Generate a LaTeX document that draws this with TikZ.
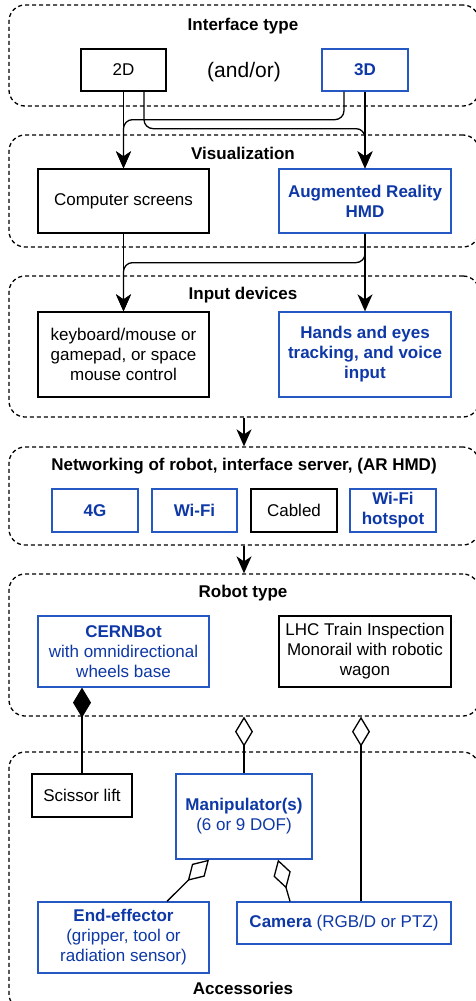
\documentclass[tikz,border=0pt]{standalone}
\usepackage{fontspec}
\setmainfont{Liberation Sans}
\usetikzlibrary{arrows.meta,calc}
\definecolor{btext}{RGB}{14,56,166}
\definecolor{bline}{RGB}{38,88,196}
\begin{document}
\begin{tikzpicture}[x=1pt,y=-1pt,
  every node/.style={font=\fontsize{17}{20}\selectfont, align=center, inner sep=0pt},
  bbox/.style={draw=black, line width=1.3pt, fill=white},
  bluebox/.style={draw=bline, line width=1.3pt, text=btext, fill=white},
  cont/.style={draw=black, line width=1.3pt, dash pattern=on 4pt off 3pt, rounded corners=16pt},
  ttl/.style={font=\fontsize{17}{20}\selectfont\bfseries},
  arr/.style={line width=1.3pt, -{Stealth[length=17pt,width=15pt,inset=5pt]}},
  lnk/.style={line width=1.3pt, rounded corners=9pt},
  fdia/.style={line width=1.3pt, -{Diamond[length=30pt,width=18pt]}},
  odia/.style={line width=1.3pt, -{Diamond[open,length=30pt,width=18pt]}}
]
\useasboundingbox (0,0) rectangle (476,1001);
\clip (0,0) rectangle (476,1001);

% containers
\node[cont, minimum width=470pt, minimum height=101pt] (c1) at (244,55.5) {};
\node[cont, minimum width=470pt, minimum height=112pt] (c2) at (244,191) {};
\node[cont, minimum width=470pt, minimum height=141pt] (c3) at (244,346.5) {};
\node[cont, minimum width=470pt, minimum height=98pt] (c4) at (244,496) {};
\node[cont, minimum width=470pt, minimum height=142pt] (c5) at (244,645) {};
\node[cont, minimum width=470pt, minimum height=258pt] (c6) at (244,881) {};

% titles
\node[ttl] (t1) at (243,26) {Interface type};
\node[ttl] (t2) at (243,153) {Visualization};
\node[ttl] (t3) at (243,295) {Input devices};
\node[ttl] (t4) at (244,466) {Networking of robot, interface server, (AR HMD)};
\node[ttl] (t5) at (243,593) {Robot type};
\node[ttl] (t6) at (243,988) {Accessories};

% interface type
\node[bbox, minimum width=85pt, minimum height=42pt] (d2) at (123.5,70) {2D};
\node[font=\fontsize{21}{24}\selectfont] (andor) at (244,72) {(and/or)};
\node[bluebox, minimum width=86pt, minimum height=42pt] (d3) at (365,70) {\bfseries 3D};

% visualization
\node[bbox, minimum width=171pt, minimum height=64pt] (cs) at (123.5,201) {Computer screens};
\node[bluebox, minimum width=172pt, minimum height=64pt] (ar) at (365,201) {\bfseries Augmented Reality\\\bfseries HMD};

% input devices
\node[bbox, minimum width=171pt, minimum height=85pt] (kb) at (123.5,354.5) {keyboard/mouse or\\gamepad, or space\\mouse control};
\node[bluebox, minimum width=172pt, minimum height=85pt] (hands) at (365,354.5) {\bfseries Hands and eyes\\\bfseries tracking, and voice\\\bfseries input};

% networking
\node[bluebox, minimum width=86pt, minimum height=43pt] (g4) at (95,510.5) {\bfseries 4G};
\node[bluebox, minimum width=85pt, minimum height=43pt] (wifi) at (194.5,510.5) {\bfseries Wi-Fi};
\node[bbox, minimum width=86pt, minimum height=43pt] (cabled) at (294,510.5) {Cabled};
\node[bluebox, minimum width=86pt, minimum height=43pt] (hot) at (393,510.5) {\bfseries Wi-Fi\\\bfseries hotspot};

% robot type
\node[bluebox, minimum width=171pt, minimum height=71pt] (cern) at (123.5,651.5) {\textbf{CERNBot}\\with omnidirectional\\wheels base};
\node[bbox, minimum width=172pt, minimum height=71pt] (lhc) at (365,651.5) {LHC Train Inspection\\Monorail with robotic\\wagon};

% accessories
\node[bbox, minimum width=100pt, minimum height=43pt] (sc) at (82,795.5) {Scissor lift};
\node[bluebox, minimum width=136pt, minimum height=85pt] (man) at (244,816.5) {\textbf{Manipulator(s)}\\(6 or 9 DOF)};
\node[bluebox, minimum width=171pt, minimum height=71pt] (ee) at (123.5,937.5) {\textbf{End-effector}\\(gripper, tool or\\radiation sensor)};
\node[bluebox, minimum width=214pt, minimum height=42pt] (cam) at (344,923) {\textbf{Camera} (RGB/D or PTZ)};

% connectors
\draw[arr] (d2.south) -- (cs.north);
\draw[arr, lnk] ([xshift=20.5pt]d2.south) -- ++(0,37) -| (ar.north);
\draw[arr, lnk] ([xshift=-21pt]d3.south) -- ++(0,28) -| (cs.north);
\draw[arr] (d3.south) -- (ar.north);
\draw[arr] (cs.south) -- (kb.north);
\draw[arr, lnk] (ar.south) -- ++(0,29) -| (kb.north);
\draw[arr] (ar.south) -- (hands.north);
\draw[arr] (c3.south) -- (c4.north);
\draw[arr] (c4.south) -- (c5.north);

\draw[fdia] (sc.north) -- (sc.north |- cern.south);
\draw[odia] (man.north) -- (man.north |- c5.south);
\draw[odia] ([xshift=17pt]cam.north) -- ([xshift=17pt]cam.north |- c5.south);
\draw[odia] ([xshift=43.5pt]ee.north) -- ([xshift=-35pt]man.south);
\draw[odia] ([xshift=-54pt]cam.north) -- ([xshift=34pt]man.south);
\end{tikzpicture}
\end{document}
